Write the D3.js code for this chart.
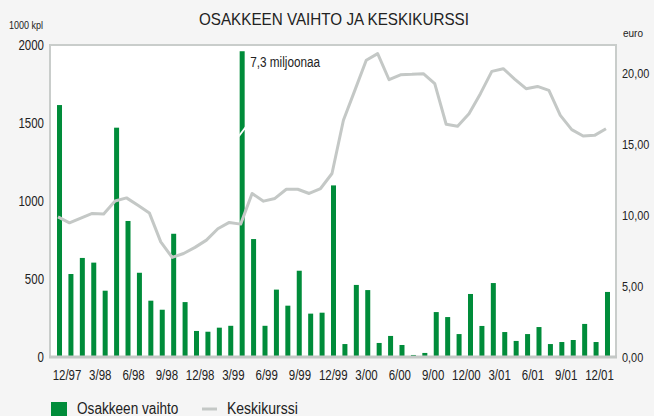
<!DOCTYPE html>
<html lang="fi">
<head>
<meta charset="utf-8">
<title>Osakkeen vaihto ja keskikurssi</title>
<script src="https://d3js.org/d3.v7.min.js"></script>
<style>
  body { margin: 0; background: #f5f5f5; }
  text { font-family: "Liberation Sans", Arial, Helvetica, sans-serif; fill: #222; }
</style>
</head>
<body>
<script>

// data: monthly share turnover (1000 kpl) and average price (euro)

const months = ["12/97",
  "1/98","2/98","3/98","4/98","5/98","6/98","7/98","8/98","9/98","10/98","11/98","12/98",
  "1/99","2/99","3/99","4/99","5/99","6/99","7/99","8/99","9/99","10/99","11/99","12/99",
  "1/00","2/00","3/00","4/00","5/00","6/00","7/00","8/00","9/00","10/00","11/00","12/00",
  "1/01","2/01","3/01","4/01","5/01","6/01","7/01","8/01","9/01","10/01","11/01","12/01"];

const volume = [1615, 532, 635, 605, 425, 1470, 872, 540, 361, 303, 790, 352, 167,
  162, 188, 200, 7300, 756, 200, 432, 329, 553, 278, 284, 1100,
  83, 462, 429, 90, 135, 77, 13, 26, 288, 256, 147, 404,
  199, 474, 160, 103, 147, 192, 83, 96, 109, 212, 96, 417];

const price = [9.88, 9.46, 9.8, 10.12, 10.09, 11.0, 11.22, 10.7, 10.16, 8.12, 7.02, 7.3, 7.73,
  8.24, 9.04, 9.49, 9.37, 11.53, 10.99, 11.18, 11.83, 11.83, 11.53, 11.88, 12.94,
  16.69, 18.8, 20.92, 21.39, 19.55, 19.9, 19.93, 19.98, 19.27, 16.41, 16.27, 17.16,
  18.57, 20.14, 20.33, 19.6, 18.92, 19.08, 18.8, 17.04, 16.03, 15.58, 15.63, 16.1];

const tickLabels = ["12/97","3/98","6/98","9/98","12/98","3/99","6/99","9/99","12/99",
  "3/00","6/00","9/00","12/00","3/01","6/01","9/01","12/01"];

const leftTicks = [0, 500, 1000, 1500, 2000];
const rightTicks = [0, 5, 10, 15, 20];

const volumeCap = 1960;   // the 7,3 million bar is cut here

const w = 654, h = 416;
const plot = {left: 50, right: 616, top: 45, bottom: 357};

const green = "#008c3a";
const grey = "#c4c8c6";

// the original uses a narrow face; squeeze the text to that width
function condense(sel, factor) {
  sel.each(function() {
    const len = this.getComputedTextLength();
    d3.select(this)
        .attr("textLength", len * factor)
        .attr("lengthAdjust", "spacingAndGlyphs");
  });
}

const svg = d3.select("body").append("svg")
    .attr("width", w)
    .attr("height", h);

svg.append("rect")
    .attr("width", w).attr("height", h)
    .attr("fill", "#f5f5f5");

// plot area

svg.append("rect")
    .attr("x", plot.left).attr("y", plot.top)
    .attr("width", plot.right - plot.left)
    .attr("height", plot.bottom - plot.top)
    .attr("fill", "#fff");

svg.append("path")
    .attr("d", `M${plot.left},${plot.bottom}V${plot.top}H${plot.right}V${plot.bottom}`)
    .attr("fill", "none")
    .attr("stroke", "#c9cdcb")
    .attr("stroke-width", 2);

// scales

const x = d3.scaleBand()
    .domain(months)
    .range([53.8, 613.2]);

const yLeft = d3.scaleLinear()
    .domain([0, 2000])
    .range([plot.bottom, plot.top]);

const yRight = d3.scaleLinear()
    .domain([0, 22])
    .range([plot.bottom, plot.top]);

const xLabels = d3.scalePoint()
    .domain(tickLabels)
    .range([66.5, 599]);

const barW = 5;
const cx = m => x(m) + x.bandwidth() / 2;

// bars

svg.append("g")
    .selectAll("rect")
    .data(months)
    .join("rect")
      .attr("x", m => cx(m) - barW / 2)
      .attr("y", (m, i) => yLeft(Math.min(volume[i], volumeCap)))
      .attr("width", barW)
      .attr("height", (m, i) => plot.bottom - yLeft(Math.min(volume[i], volumeCap)))
      .attr("fill", green);

// break mark on the capped bar

const bigIdx = volume.findIndex(v => v > volumeCap);
const bx = cx(months[bigIdx]);
const by = yLeft(1460);
svg.append("polygon")
    .attr("points", [[bx - 3, by + 5], [bx + 3, by - 3], [bx + 3, by], [bx - 3, by + 8]].join(" "))
    .attr("fill", "#fff");

svg.append("text")
    .attr("x", bx + 8)
    .attr("y", yLeft(volumeCap) + 16)
    .attr("font-size", 14)
    .text("7,3 miljoonaa")
    .call(condense, 0.84);

// price line

const line = d3.line()
    .x((d, i) => cx(months[i]) - 1.5)
    .y(d => yRight(d));

svg.append("path")
    .datum(price)
    .attr("d", line)
    .attr("fill", "none")
    .attr("stroke", grey)
    .attr("stroke-width", 3)
    .attr("stroke-linejoin", "round");

// bottom axis line

svg.append("line")
    .attr("x1", plot.left - 1).attr("x2", plot.right + 1)
    .attr("y1", plot.bottom).attr("y2", plot.bottom)
    .attr("stroke", grey)
    .attr("stroke-width", 3);

// axes

const leftAxis = svg.append("g")
    .attr("transform", `translate(${plot.left},0)`)
    .call(d3.axisLeft(yLeft).tickValues(leftTicks).tickSize(0).tickPadding(6)
      .tickFormat(d3.format("d")));

const rightAxis = svg.append("g")
    .attr("transform", `translate(${plot.right},0)`)
    .call(d3.axisRight(yRight).tickValues(rightTicks).tickSize(0).tickPadding(6)
      .tickFormat(d => d3.format(".2f")(d).replace(".", ",")));

const bottomAxis = svg.append("g")
    .attr("transform", `translate(0,${plot.bottom})`)
    .call(d3.axisBottom(xLabels).tickSize(0).tickPadding(13));

[leftAxis, bottomAxis].forEach(g => {
  g.attr("font-family", null).attr("font-size", null);
  g.select(".domain").remove();
  g.selectAll("text")
      .attr("font-size", 14)
      .attr("fill", "#222")
      .call(condense, 0.82);
});

rightAxis.attr("font-family", null).attr("font-size", null);
rightAxis.select(".domain").remove();
rightAxis.selectAll("text")
    .attr("font-size", 13)
    .attr("fill", "#222")
    .call(condense, 0.84);

// titles

svg.append("text")
    .attr("x", 334).attr("y", 25)
    .attr("text-anchor", "middle")
    .attr("font-size", 17)
    .attr("fill", "#333")
    .text("OSAKKEEN VAIHTO JA KESKIKURSSI")
    .call(condense, 0.895);

svg.append("text")
    .attr("x", 9).attr("y", 29)
    .attr("font-size", 10)
    .text("1000 kpl")
    .call(condense, 0.9);

svg.append("text")
    .attr("x", 623).attr("y", 37)
    .attr("font-size", 10)
    .text("euro");

// legend

svg.append("rect")
    .attr("x", 51).attr("y", 402)
    .attr("width", 16).attr("height", 16)
    .attr("fill", green);

svg.append("text")
    .attr("x", 77).attr("y", 414)
    .attr("font-size", 16)
    .text("Osakkeen vaihto")
    .call(condense, 0.85);

svg.append("line")
    .attr("x1", 202).attr("x2", 217)
    .attr("y1", 409).attr("y2", 409)
    .attr("stroke", grey)
    .attr("stroke-width", 3);

svg.append("text")
    .attr("x", 227).attr("y", 414)
    .attr("font-size", 16)
    .text("Keskikurssi")
    .call(condense, 0.875);

</script>
</body>
</html>
